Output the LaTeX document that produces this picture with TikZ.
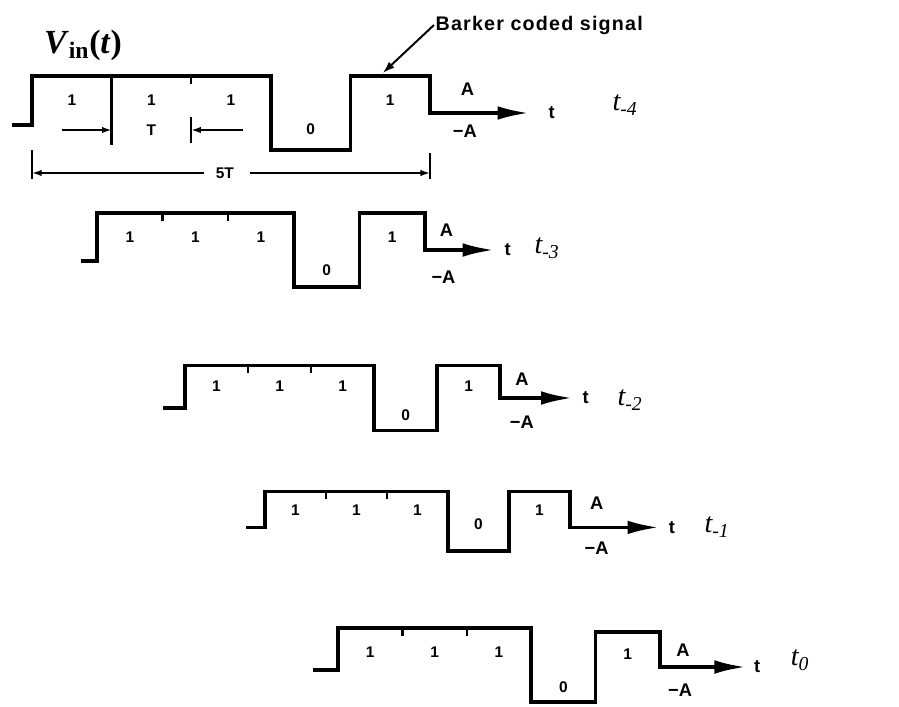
\documentclass[tikz,border=0pt]{standalone}
\usepackage{fontspec}
\setmainfont{Liberation Serif}
\setsansfont{Liberation Sans}
\newfontfamily\notefont{Liberation Sans}[LetterSpace=6]
\usetikzlibrary{arrows.meta}

\begin{document}
\begin{tikzpicture}[x=0.025cm,y=-0.025cm,
  sig/.style={line width=2.7pt,line join=miter,-{Latex[length=8mm,width=3.4mm]}},
  tick/.style={line width=1.6pt},
  dim/.style={line width=1.2pt},
  dimarr/.style={line width=1.2pt,-{Latex[length=2.4mm,width=1.6mm]}},
  lead/.style={line width=1.4pt,-{Latex[length=3mm,width=2mm]}},
  bit/.style={font=\sffamily\bfseries\fontsize{11}{13}\selectfont,inner sep=1pt},
  amp/.style={font=\sffamily\bfseries\fontsize{13}{15}\selectfont,inner sep=1pt},
  note/.style={font=\notefont\bfseries\fontsize{14}{16}\selectfont,inner sep=1pt},
  tlab/.style={font=\itshape\fontsize{20}{22}\selectfont,inner sep=1pt}]
\useasboundingbox (0,0) rectangle (899,706);

% first code word, with the bit and word lengths
\node[font=\bfseries\fontsize{24}{28}\selectfont] (vin) at (83,45) {\textit{V}\textsubscript{in}(\textit{t})};
\begin{scope}[shift={(32,113)},xscale=1.244]
\draw[sig] (-16,12) -- (0,12) -- (0,-37) -- (192,-37) -- (192,37) -- (256,37) -- (256,-37) -- (320,-37) -- (320,0) -- (400,0);
\draw[tick] (64,-37) -- (64,32); \draw[tick] (128,-37) -- (128,-29); \draw[tick] (128,4) -- (128,30);
\node[bit] (n4a) at (32,-13) {1}; \node[bit] (n4b) at (96,-13) {1}; \node[bit] (n4c) at (160,-13) {1};
\node[bit] (n4d) at (224,16) {0}; \node[bit] (n4e) at (288,-13) {1};
\coordinate (w4top) at (282,-40);
\draw[dimarr] (24,17) -- (64,17); \draw[dimarr] (170,17) -- (128,17);
\node[bit] (per) at (96,17) {T};
\draw[dim] (0,37) -- (0,66); \draw[dim] (320,40) -- (320,66);
\draw[dimarr] (138,60) -- (0,60); \draw[dimarr] (175,60) -- (320,60);
\node[bit] (word) at (155,60) {5T};
\node[amp] (p4) at (350,-24) {A}; \node[amp] (m4) at (348,18) {−A};
\node[amp,anchor=west] (x4) at (414,0) {t};
\end{scope}
\node[note,anchor=west] (barker) at (434,25) {Barker coded signal};
\draw[lead] (barker.west) -- (w4top);
\node[tlab] (t4) at (625,105) {t\textsubscript{-4}};

% delayed copies of the code word
\begin{scope}[shift={(97,250)},xscale=1.025]
\draw[sig] (-16,11) -- (0,11) -- (0,-37) -- (192,-37) -- (192,37) -- (256,37) -- (256,-37) -- (320,-37) -- (320,0) -- (388,0);
\draw[tick] (64,-37) -- (64,-29); \draw[tick] (128,-37) -- (128,-29);
\node[bit] (n3a) at (32,-13) {1}; \node[bit] (n3b) at (96,-13) {1}; \node[bit] (n3c) at (160,-13) {1};
\node[bit] (n3d) at (224,20) {0}; \node[bit] (n3e) at (288,-13) {1};
\node[amp] (p3) at (341,-20) {A}; \node[amp] (m3) at (338,27) {−A};
\node[amp,anchor=west] (x3) at (396,0) {t};
\end{scope}
\node[tlab] (t3) at (547,248) {t\textsubscript{-3}};

\begin{scope}[shift={(185,398)},xscale=0.985,yscale=0.88]
\draw[sig] (-22,11) -- (0,11) -- (0,-37) -- (192,-37) -- (192,37) -- (256,37) -- (256,-37) -- (320,-37) -- (320,0) -- (394,0);
\draw[tick] (64,-37) -- (64,-28); \draw[tick] (128,-37) -- (128,-28);
\node[bit] (n2a) at (32,-14) {1}; \node[bit] (n2b) at (96,-14) {1}; \node[bit] (n2c) at (160,-14) {1};
\node[bit] (n2d) at (224,20) {0}; \node[bit] (n2e) at (288,-14) {1};
\node[amp] (p2) at (342,-21) {A}; \node[amp] (m2) at (342,28) {−A};
\node[amp,anchor=west] (x2) at (402,0) {t};
\end{scope}
\node[tlab] (t2) at (630,400) {t\textsubscript{-2}};

\begin{scope}[shift={(265,521)},xscale=0.953,yscale=0.8]
\draw[sig] (-20,8) -- (0,8) -- (0,-37) -- (192,-37) -- (192,37) -- (256,37) -- (256,-37) -- (320,-37) -- (320,8) -- (414,8);
\draw[tick] (64,-37) -- (64,-27); \draw[tick] (128,-37) -- (128,-27);
\node[bit] (n1a) at (32,-13) {1}; \node[bit] (n1b) at (96,-13) {1}; \node[bit] (n1c) at (160,-13) {1};
\node[bit] (n1d) at (224,4) {0}; \node[bit] (n1e) at (288,-13) {1};
\node[amp] (p1) at (348,-22) {A}; \node[amp] (m1) at (348,34) {−A};
\node[amp,anchor=west] (x1) at (422,8) {t};
\end{scope}
\node[tlab] (t1) at (717,527) {t\textsubscript{-1}};

\begin{scope}[shift={(338,665)},xscale=1.006]
\draw[sig] (-25,5) -- (0,5) -- (0,-37) -- (192,-37) -- (192,37) -- (256,37) -- (256,-33) -- (320,-33) -- (320,2) -- (406,2);
\draw[tick] (64,-37) -- (64,-29); \draw[tick] (128,-37) -- (128,-29);
\node[bit] (n0a) at (32,-13) {1}; \node[bit] (n0b) at (96,-13) {1}; \node[bit] (n0c) at (160,-13) {1};
\node[bit] (n0d) at (224,22) {0}; \node[bit] (n0e) at (288,-11) {1};
\node[amp] (p0) at (343,-15) {A}; \node[amp] (m0) at (340,25) {−A};
\node[amp,anchor=west] (x0) at (412,2) {t};
\end{scope}
\node[tlab] (t0) at (800,660) {t\textsubscript{0}};
\end{tikzpicture}
\end{document}
